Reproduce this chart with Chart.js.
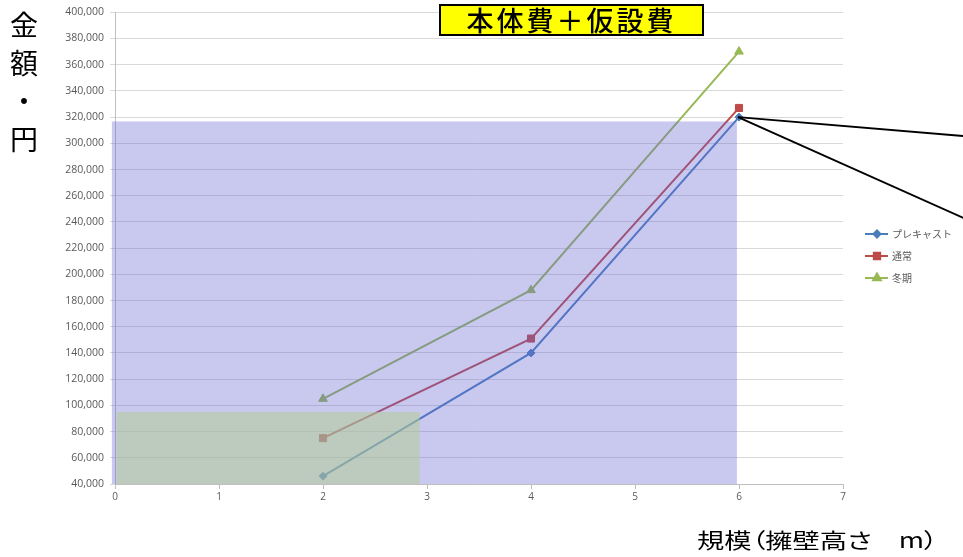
<!DOCTYPE html>
<html>
<head>
<meta charset="utf-8">
<script src="https://cdn.jsdelivr.net/npm/chart.js@4.4.0/dist/chart.umd.min.js"></script>
<style>
  html,body{margin:0;padding:0;background:#fff;}
  #wrap{position:relative;width:963px;height:557px;overflow:hidden;}
  canvas{position:absolute;left:0;top:0;}
  .jp{font-family:"Noto Sans CJK JP","Noto Sans",sans-serif;color:#000;position:absolute;}
  #ytitle{left:7px;top:5px;width:34px;text-align:center;font-size:28px;line-height:38px;}
  #xtitle{left:697px;top:528px;font-size:21px;line-height:22px;white-space:nowrap;transform:scaleX(1.3);transform-origin:0 0;font-feature-settings:"palt";}
  #title{left:439px;top:4px;width:261px;height:28px;background:#ffff00;border:2px solid #000;text-align:center;font-size:27px;line-height:28px;letter-spacing:3px;white-space:nowrap;font-weight:500;}
</style>
</head>
<body>
<div id="wrap">
  <canvas id="c" width="963" height="557"></canvas>
  <div id="title" class="jp">本体費＋仮設費</div>
  <div id="ytitle" class="jp">金<br>額<br>・<br>円</div>
  <div id="xtitle" class="jp">規模（擁壁高さ　m）</div>
</div>
<script>
// ---- data ----
const seriesNames = ["プレキャスト", "通常", "冬期"];
const heights = [2, 4, 6];
const precast = [46000, 140000, 320000];
const normal = [75000, 151000, 327000];
const winter = [105000, 188000, 370000];
const xTicks = [0, 1, 2, 3, 4, 5, 6, 7];
const yTicks = [40000, 60000, 80000, 100000, 120000, 140000, 160000, 180000, 200000,
  220000, 240000, 260000, 280000, 300000, 320000, 340000, 360000, 380000, 400000];
// shaded regions in data units: [xStart, xEnd, yBottom, yTop]
const purpleRegion = [-0.03, 5.98, 40000, 316700];
const greenRegion = [0.015, 2.93, 40000, 95000];
// callout lines: from a data point to points off the right edge
const calloutFrom = [6, 320000];
const calloutTo = [[8.16, 305600], [8.16, 243000]];

const colors = ["#4a7ebb", "#be4b48", "#98b954"];
const styles = ["rectRot", "rect", "triangle"];
const radii = [4, 5, 5];
const seriesValues = [precast, normal, winter];

const datasets = seriesNames.map((name, i) => ({
  label: name,
  data: heights.map((h, j) => ({x: h, y: seriesValues[i][j]})),
  borderColor: colors[i],
  backgroundColor: colors[i],
  pointStyle: styles[i],
  pointRadius: radii[i],
  pointHoverRadius: radii[i],
  borderWidth: 2,
  pointBorderWidth: 1,
  tension: 0,
  fill: false
}));

const overlayPlugin = {
  id: 'overlay',
  afterDatasetsDraw(chart) {
    const {ctx, scales: {x, y}} = chart;
    const rect = (r, fill) => {
      const x0 = x.getPixelForValue(r[0]), x1 = x.getPixelForValue(r[1]);
      const y0 = y.getPixelForValue(r[2]), y1 = y.getPixelForValue(r[3]);
      ctx.fillStyle = fill;
      ctx.fillRect(x0, y1, x1 - x0, y0 - y1);
    };
    ctx.save();
    rect(purpleRegion, 'rgba(100,100,212,0.35)');
    rect(greenRegion, 'rgba(178,206,150,0.55)');
    // callouts
    ctx.strokeStyle = '#000';
    ctx.lineWidth = 2;
    const fx = x.getPixelForValue(calloutFrom[0]) - 1, fy = y.getPixelForValue(calloutFrom[1]);
    calloutTo.forEach(t => {
      ctx.beginPath();
      ctx.moveTo(fx, fy);
      ctx.lineTo(x.getPixelForValue(t[0]), y.getPixelForValue(t[1]));
      ctx.stroke();
    });
    // legend
    const lx = chart.chartArea.right + 22;
    let ly = 234;
    ctx.font = '10px "Noto Sans CJK JP", sans-serif';
    ctx.textBaseline = 'middle';
    chart.data.datasets.forEach((ds, i) => {
      ctx.strokeStyle = ds.borderColor;
      ctx.lineWidth = 2;
      ctx.beginPath();
      ctx.moveTo(lx, ly);
      ctx.lineTo(lx + 23, ly);
      ctx.stroke();
      Chart.helpers.drawPoint(ctx, {pointStyle: ds.pointStyle, radius: ds.pointRadius - 0.5, borderWidth: 1}, lx + 12, ly);
      ctx.fillStyle = ds.borderColor;
      ctx.strokeStyle = ds.borderColor;
      ctx.fill();
      ctx.fillStyle = '#595959';
      ctx.fillText(ds.label, lx + 27, ly);
      ly += 22;
    });
    ctx.restore();
  }
};

new Chart(document.getElementById('c'), {
  type: 'line',
  data: {datasets},
  options: {
    responsive: false,
    animation: false,
    layout: {padding: {top: 10, right: 120, left: 0, bottom: 0}},
    plugins: {legend: {display: false}, tooltip: {enabled: false}},
    scales: {
      x: {
        type: 'linear', min: 0, max: 7,
        afterBuildTicks: s => { s.ticks = xTicks.map(v => ({value: v})); },
        afterFit: s => { s.height = 73; },
        ticks: {color: '#595959', font: {family: 'Open Sans', size: 10}, padding: 2},
        grid: {drawOnChartArea: false, tickLength: 5, color: '#bfbfbf'},
        border: {color: '#bfbfbf'}
      },
      y: {
        type: 'linear', min: 40000, max: 400000,
        afterBuildTicks: s => { s.ticks = yTicks.map(v => ({value: v})); },
        afterFit: s => { s.width = 115; },
        ticks: {color: '#595959', font: {family: 'Open Sans', size: 10.5}, padding: 6,
          callback: v => v.toLocaleString('en-US')},
        grid: {color: '#d9d9d9', tickLength: 5},
        border: {color: '#bfbfbf'}
      }
    }
  },
  plugins: [overlayPlugin]
});
</script>
</body>
</html>
